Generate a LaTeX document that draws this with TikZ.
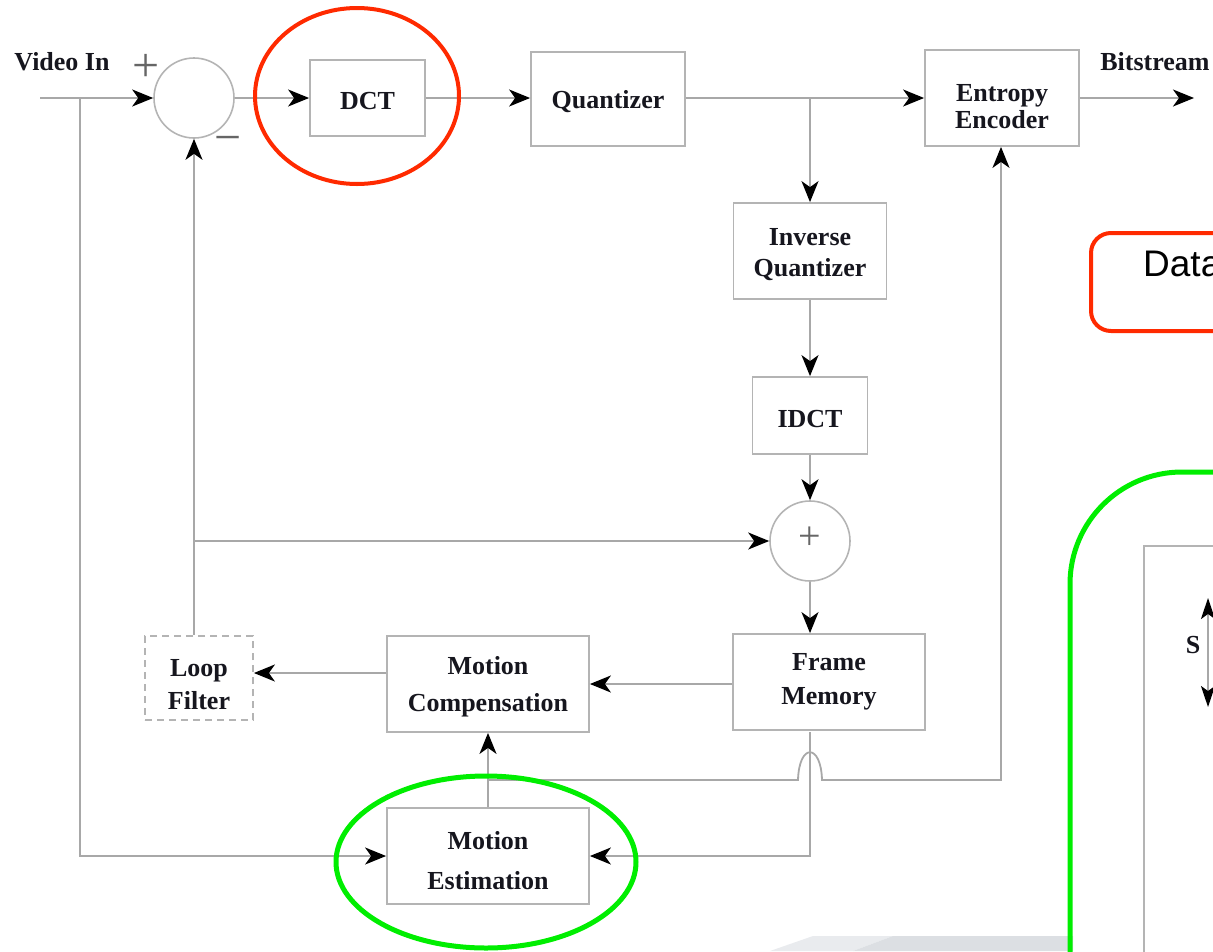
\documentclass[tikz,border=0pt]{standalone}
\usepackage{fontspec}
\setmainfont{Liberation Serif}
\newfontfamily\arialf{Liberation Sans}
\usetikzlibrary{arrows.meta}
\definecolor{linegray}{HTML}{A8A8A8}
\definecolor{boxgray}{HTML}{B4B4B4}
\definecolor{txtdark}{HTML}{16161E}
\definecolor{hlred}{HTML}{FF2A00}
\definecolor{hlgreen}{HTML}{00EE00}
\definecolor{shadeA}{HTML}{E9EBEE}
\definecolor{shadeB}{HTML}{DCDFE3}
% pushes a node's text down by #1 pt
\newcommand{\dnpad}[1]{\rule{0pt}{\dimexpr 17.6pt + #1pt + #1pt\relax}}
\tikzset{
  blk/.style={draw=boxgray, line width=1.8pt, fill=white, align=center, text=txtdark,
    font=\fontsize{26}{33}\selectfont\bfseries, inner sep=0pt},
  sumc/.style={draw=boxgray, line width=1.6pt, circle, minimum size=80pt, inner sep=0pt},
  wire/.style={draw=linegray, line width=1.8pt},
  tip/.style={-{Stealth[length=21pt,width=17pt,inset=6pt,color=black]}},
  arr/.style={wire, tip},
  lbl/.style={text=txtdark, font=\fontsize{26}{32}\selectfont\bfseries, inner sep=0pt},
  sign/.style={text=gray!80!black, font=\fontsize{48}{48}\selectfont, inner sep=0pt}
}
\begin{document}
\begin{tikzpicture}[x=1pt,y=-1pt]
\useasboundingbox (0,0) rectangle (1213,951);
\clip (0,0) rectangle (1213,951);
% background shade at bottom
\fill[shadeA] (770,951) -- (813,936) -- (893,936) -- (853,951) -- cycle;
\fill[shadeB] (853,951) -- (893,936) -- (1073,936) -- (1073,951) -- cycle;

% blocks
\node[sumc] (sum) at (194,98) {};
\node[blk, minimum width=115pt, minimum height=76pt] (dct) at (367.5,98) {\dnpad{3}DCT};
\node[blk, minimum width=154pt, minimum height=94pt] (quant) at (608,99) {\dnpad{3}Quantizer};
\node[blk, minimum width=154pt, minimum height=96pt, font=\fontsize{26}{27}\selectfont\bfseries] (ent) at (1002,98) {\dnpad{8}Entropy\\Encoder};
\node[blk, minimum width=153pt, minimum height=96pt, font=\fontsize{26}{31}\selectfont\bfseries] (iq) at (810,251) {\dnpad{3}Inverse\\Quantizer};
\node[blk, minimum width=115pt, minimum height=77pt] (idct) at (810,415.5) {\dnpad{3}IDCT};
\node[sumc] (add) at (810,541) {};
\node[sign, font=\fontsize{40}{40}\selectfont] (plusin) at (810,538) {+};
\node[blk, minimum width=192pt, minimum height=96pt, font=\fontsize{26}{34}\selectfont\bfseries] (fm) at (829,682) {Frame\\Memory};
\node[blk, minimum width=202pt, minimum height=96pt, font=\fontsize{26}{37}\selectfont\bfseries] (mc) at (488,684) {\dnpad{3}Motion\\Compensation};
\node[blk, dashed, dash pattern=on 7pt off 5pt, minimum width=108pt, minimum height=84pt] (lf) at (199,678) {\dnpad{6}Loop\\Filter};
\node[blk, minimum width=202pt, minimum height=96pt, font=\fontsize{26}{40}\selectfont\bfseries] (me) at (488,856) {\dnpad{5}Motion\\Estimation};

% labels
\node[lbl] (vinl) at (62,62) {Video In};
\node[lbl] (bsl) at (1155,62) {Bitstream};
\node[sign] (plusl) at (146,68) {+};
\node[sign] (minusl) at (228,145) {−};

% coordinates
\coordinate (vin) at (40,98);
\coordinate (vbr) at (80,98);
\coordinate (qbr) at (810,98);
\coordinate (bsout) at (1194,98);
\coordinate (fbr) at (194,541);
\coordinate (mvs) at (488,780);
\coordinate (hopa) at (798,780);
\coordinate (hopb) at (822,780);
\coordinate (mvc) at (1001,780);
\coordinate (fmb) at (810,732);
\coordinate (fmc) at (810,856);

% connectors
\draw[arr] (vin) -- (sum.west);
\draw[arr] (vbr) -- (vbr |- me.west) -- (me.west);
\draw[arr] (sum.east) -- (dct.west);
\draw[arr] (dct.east) -- (dct.east -| quant.west);
\draw[arr] (quant.east |- ent.west) -- (ent.west);
\draw[arr] (qbr) -- (qbr |- iq.north);
\draw[arr] (iq.south) -- (idct.north);
\draw[arr] (idct.south) -- (add.north);
\draw[arr] (add.south) -- (add.south |- fm.north);
\draw[arr] (ent.east) -- (bsout);
\draw[arr] (fm.west |- mc.east) -- (mc.east);
\draw[arr] ([yshift=11pt]mc.west) -- ([yshift=11pt]mc.west -| lf.east);
\draw[arr] (sum.south |- lf.north) -- (sum.south);
\draw[arr] (fbr) -- (add.west);
\draw[arr] (me.north) -- (mc.south);
\draw[arr] (mvs) -- (hopa) .. controls (799,743) and (821,743) .. (hopb) -- (mvc) -- (mvc |- ent.south);
\draw[arr] (fmb) -- (fmc) -- (me.east);

% highlights
\draw[hlred, line width=4pt] (357,96) ellipse [x radius=102, y radius=88];
\draw[hlgreen, line width=5pt] (486,862) ellipse [x radius=150, y radius=86];
\draw[hlred, line width=4pt, rounded corners=20pt] (1091,233) rectangle (1260,331);
\node[anchor=base west, inner sep=0pt, font=\arialf\fontsize{37}{37}\selectfont, text=black] (datal) at (1143,276) {Data};
\draw[hlgreen, line width=5pt, rounded corners=112pt] (1070,1100) -- (1070,472) -- (1400,472);
\draw[draw=boxgray, line width=2pt] (1144,1000) -- (1144,546) -- (1300,546);
\coordinate (s1) at (1208,598);
\coordinate (s2) at (1208,707);
\draw[wire, {Stealth[length=21pt,width=14pt,inset=5pt,color=black]}-{Stealth[length=21pt,width=14pt,inset=5pt,color=black]}] (s1) -- (s2);
\node[lbl] (sl) at (1193,645) {S};
\end{tikzpicture}
\end{document}
